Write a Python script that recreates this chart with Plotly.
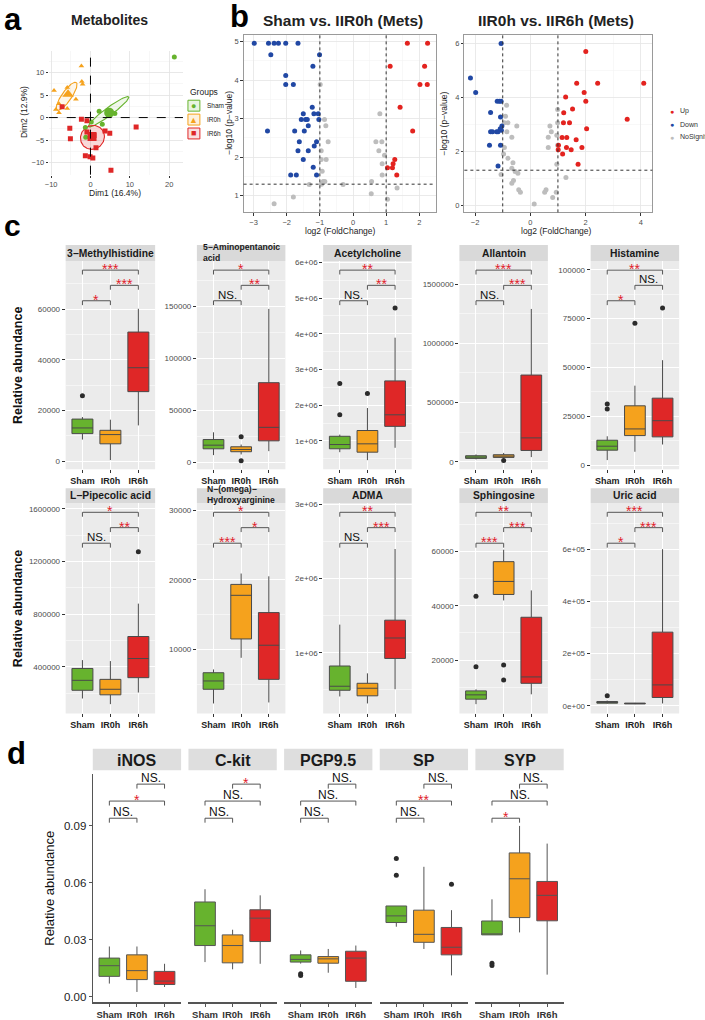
import numpy as np
import plotly.graph_objects as go

# ======================= DATA =======================
groups = ["Sham", "IR0h", "IR6h"]

# ---- Panel a : PCA (Dim1 / Dim2) ----
pca_sham_x = [21.3, 2.2, 4.3, 6.2, 3.0, 0.2, -1.3, -1.2]
pca_sham_y = [13.5, 1.4, 1.5, 0.9, -1.5, -1.0, -2.2, -4.4]
pca_ir0h_x = [-2.3, -2.2, -2.0, -5.9, -9.25, -3.7, -8.0, -5.9, -8.8, -8.0]
pca_ir0h_y = [11.5, 8.0, 7.4, 6.7, 6.0, 4.1, 3.1, 2.0, 1.8, 1.1]
pca_ir6h_x = [-7.2, -2.3, -0.9, 11.6, -5.25, 3.7, 4.9, -5.1, 1.4, -1.3, -0.1, 0.6, 5.2, -0.9, 0.9]
pca_ir6h_y = [2.4, -0.4, -0.7, -2.1, -2.4, -3.0, -3.5, -4.7, -6.7, -8.5, -8.7, -9.0, -11.7, -3.2, -4.0]
pca_centroid_x = [4.75, -5.7, 0.4]
pca_centroid_y = [1.1, 5.2, -4.2]
ell_center = [(4.6, 1.3), (-6.05, 4.75), (0.5, -4.4)]
ell_u = [(5.1, 3.3), (2.45, 3.05), (3.0, 0.6)]
ell_v = [(-0.6, 0.7), (-1.0, 0.65), (-0.5, 2.6)]

# ---- Panel b : volcano Sham vs IIR0h ----
v1_up_x = [1.64, 2.25, 1.12, 2.16, 2.02, 2.24, 1.42, 1.80, 1.26, 1.21, 1.19, 1.04, 1.32]
v1_up_y = [4.96, 4.96, 4.36, 4.36, 3.89, 3.89, 3.30, 2.68, 1.94, 1.83, 1.73, 1.73, 1.54]
v1_down_x = [-2.98, -2.55, -2.38, -2.25, -2.03, -1.66, -2.48, -1.01, -1.21, -2.03, -2.03, -1.80,
             -1.23, -1.50, -1.18, -1.05, -1.56, -1.43, -1.38, -1.03, -1.35, -2.58, -1.76, -1.47,
             -1.62, -1.10, -1.17, -1.66, -1.35, -1.50, -1.20, -1.88, -1.71, -1.10]
v1_down_y = [4.96, 4.96, 4.96, 4.96, 4.96, 4.96, 4.66, 4.66, 4.36, 4.12, 3.89, 3.89,
             3.30, 3.13, 3.13, 3.13, 2.98, 2.98, 2.98, 2.98, 2.82, 2.68, 2.68, 2.68,
             2.40, 2.40, 2.29, 2.17, 2.17, 1.94, 1.74, 1.54, 1.54, 1.54]
v1_ns_x = [-0.99, -0.86, -0.82, -0.75, -0.96, -0.96, -0.81, -0.93, -0.90, -0.85, -0.95, -1.32,
           -0.30, -1.80, -2.38, 0.81, 0.69, 0.87, 0.78, 0.95, 0.88, 0.88, 0.56, 0.55, 1.33, 1.04]
v1_ns_y = [3.89, 2.98, 2.82, 2.40, 2.17, 1.94, 1.94, 1.64, 1.37, 1.37, 1.30, 1.29,
           1.29, 0.97, 0.79, 3.13, 2.40, 2.40, 2.17, 2.05, 1.83, 1.54, 1.37, 1.05, 1.20, 0.91]

# ---- Panel b : volcano IIR0h vs IIR6h ----
v2_up_x = [2.01, 1.68, 2.44, 4.11, 1.95, 1.28, 2.01, 1.53, 1.21, 3.51, 1.20, 1.42, 2.04, 1.15,
           1.32, 1.66, 1.02, 1.31, 1.87, 1.48, 1.01, 1.17, 1.73]
v2_up_y = [5.70, 4.52, 4.52, 4.52, 4.18, 4.01, 3.86, 3.57, 3.43, 3.19, 3.06, 3.06, 2.84, 2.51,
           2.51, 2.43, 2.23, 2.14, 2.14, 2.06, 2.06, 1.90, 1.52]
v2_down_x = [-2.17, -1.98, -1.06, -1.20, -1.12, -1.06, -1.44, -1.08, -1.03, -1.09, -1.44, -1.37,
             -1.22, -1.17, -1.48, -1.08, -1.17, -1.05]
v2_down_y = [4.72, 4.18, 6.0, 3.86, 3.86, 3.86, 3.44, 3.27, 2.94, 2.84, 2.73, 2.73,
             2.73, 2.73, 2.23, 2.23, 1.46, 2.78]
v2_ns_x = [-0.86, -0.90, -0.94, -0.81, -0.49, -0.85, -0.67, -0.94, -0.97, -0.81, -0.63, -0.67,
           -0.55, -0.45, -1.06, -0.61, -0.67, -0.42, -0.36, 0.14, 0.99, 0.99, 0.71, 0.76,
           0.65, 0.96, 0.99, 0.65, 0.96, 1.29, 0.57, 0.52, 0.94, 0.81]
v2_ns_y = [3.71, 3.30, 3.06, 3.06, 2.94, 2.73, 2.52, 2.14, 1.90, 1.74, 1.58, 1.37,
           1.25, 1.19, 1.14, 0.92, 0.82, 0.58, 0.48, 0.05, 3.55, 3.06, 2.94, 2.73,
           2.52, 2.60, 2.23, 2.14, 1.52, 1.03, 0.58, 0.48, 0.48, 0.29]

# ---- Panel c : metabolite box plots ----
c_names = ["3−Methylhistidine", "5−Aminopentanoic<br>acid", "Acetylcholine", "Allantoin", "Histamine",
           "L−Pipecolic acid", "N−(omega)−<br>Hydroxyarginine", "ADMA", "Sphingosine", "Uric acid"]
c_sham_lo = [8500, 7150, 683000, 20000, 2690, 158500, 2275, 411000, 3770, 8000]
c_sham_q1 = [10860, 13200, 778000, 28500, 7760, 221000, 4310, 495000, 5600, 9900]
c_sham_med = [13100, 16700, 897000, 39400, 9790, 296600, 5500, 549000, 7200, 12500]
c_sham_q3 = [16600, 22100, 1128000, 51000, 12830, 387000, 6680, 822000, 8660, 16300]
c_sham_hi = [17400, 29050, 1175000, 62000, 14860, 450500, 7150, 1380000, 9250, 20000]
c_sham_out = [[25800], [], [2610000, 1730000], [], [31290, 28750], [], [], [], [17550, 43500], [38000]]
c_ir0h_lo = [400, 7800, 460000, 30000, 6950, 115500, 8820, 317000, 42000, 6000]
c_ir0h_q1 = [6820, 10400, 683000, 36800, 15210, 186400, 11520, 420000, 44200, 7000]
c_ir0h_med = [10470, 12570, 917000, 47700, 18610, 228700, 17775, 522000, 49000, 8700]
c_ir0h_q3 = [12160, 15150, 1290000, 59500, 30430, 304000, 19340, 589000, 56300, 10000]
c_ir0h_hi = [16350, 17300, 1920000, 74500, 40720, 443000, 20900, 723000, 60700, 11000]
c_ir0h_out = [[], [24670, 1800], [2330000], [11700], [72670], [], [], [], [18200, 12700], []]
c_ir6h_lo = [14100, 10950, 806000, 39400, 10650, 203800, 2420, 509000, 7400, 8700]
c_ir6h_q1 = [27450, 20860, 1406000, 95500, 14550, 317000, 5730, 924000, 11450, 31600]
c_ir6h_med = [36900, 33810, 1730000, 201800, 22820, 462600, 10620, 1200000, 13800, 79800]
c_ir6h_q3 = [51000, 76670, 2680000, 732000, 34330, 630000, 15300, 1440000, 35800, 282000]
c_ir6h_hi = [60200, 147500, 3890000, 1290000, 53750, 880000, 20500, 2400000, 45700, 600000]
c_ir6h_out = [[], [], [4720000], [], [80480], [1275000], [], [], [], []]
c_tickvals = [[0, 20000, 40000, 60000], [0, 50000, 100000, 150000],
              [1e6, 2e6, 3e6, 4e6, 5e6, 6e6], [0, 500000, 1000000, 1500000],
              [0, 25000, 50000, 75000, 100000], [400000, 800000, 1200000, 1600000],
              [10000, 20000, 30000], [1e6, 2e6, 3e6], [20000, 40000, 60000], [0, 2e5, 4e5, 6e5]]
c_ticktext = [["0", "20000", "40000", "60000"], ["0", "50000", "100000", "150000"],
              ["1e+06", "2e+06", "3e+06", "4e+06", "5e+06", "6e+06"], ["0", "500000", "1000000", "1500000"],
              ["0", "25000", "50000", "75000", "100000"], ["400000", "800000", "1200000", "1600000"],
              ["10000", "20000", "30000"], ["1e+06", "2e+06", "3e+06"], ["20000", "40000", "60000"],
              ["0e+00", "2e+05", "4e+05", "6e+05"]]
c_sig_top = ["***", "*", "**", "***", "**", "*", "*", "**", "**", "***"]      # Sham vs IR6h
c_sig_mid = ["***", "**", "**", "***", "NS.", "**", "*", "***", "***", "***"]  # IR0h vs IR6h
c_sig_low = ["*", "NS.", "NS.", "NS.", "*", "NS.", "***", "NS.", "***", "*"]   # Sham vs IR0h

# ---- Panel d : protein markers ----
d_names = ["iNOS", "C-kit", "PGP9.5", "SP", "SYP"]
d_sham_lo = [0.0070, 0.0183, 0.0175, 0.0369, 0.0326]
d_sham_q1 = [0.0108, 0.0270, 0.0183, 0.0391, 0.0326]
d_sham_med = [0.0164, 0.0374, 0.0197, 0.0426, 0.0326]
d_sham_q3 = [0.0204, 0.0499, 0.0221, 0.0478, 0.0399]
d_sham_hi = [0.0265, 0.0566, 0.0244, 0.0478, 0.0513]
d_sham_out = [[], [], [0.0122, 0.0112], [0.0727, 0.0639], [0.0177, 0.0165]]
d_ir0h_lo = [0.0026, 0.0145, 0.0127, 0.0252, 0.0339]
d_ir0h_q1 = [0.0091, 0.0179, 0.0177, 0.0287, 0.0417]
d_ir0h_med = [0.0138, 0.0270, 0.0200, 0.0329, 0.0621]
d_ir0h_q3 = [0.0221, 0.0326, 0.0212, 0.0456, 0.0757]
d_ir0h_hi = [0.0265, 0.0353, 0.0252, 0.0684, 0.0899]
d_ir0h_out = [[], [], [], [], []]
d_ir6h_lo = [0.0052, 0.0174, 0.0047, 0.0113, 0.0117]
d_ir6h_q1 = [0.0065, 0.0291, 0.0082, 0.0221, 0.0400]
d_ir6h_med = [0.0083, 0.0414, 0.0204, 0.0261, 0.0534]
d_ir6h_q3 = [0.0134, 0.0458, 0.0240, 0.0365, 0.0607]
d_ir6h_hi = [0.0174, 0.0534, 0.0270, 0.0456, 0.0806]
d_ir6h_out = [[], [], [], [0.0592], []]
d_tickvals = [0, 0.03, 0.06, 0.09]
d_ticktext = ["0.00", "0.03", "0.06", "0.09"]
d_sig_top = ["NS.", "*", "NS.", "NS.", "NS."]    # IR0h vs IR6h
d_sig_mid = ["*", "NS.", "NS.", "**", "NS."]     # Sham vs IR6h
d_sig_low = ["NS.", "NS.", "NS.", "NS.", "*"]    # Sham vs IR0h

# ======================= STYLE / LAYOUT =======================
W, H = 705, 1020
FONT = "Liberation Sans, Arial, sans-serif"
GREEN, ORANGE, RED = "#67b32e", "#f5a21d", "#df2727"
GROUP_COLORS = [GREEN, ORANGE, RED]
V_RED, V_BLUE, V_GRAY = "#e3231f", "#2148a4", "#bdbdbd"
STAR_RED = "#e0202a"

fig = go.Figure()
shapes, annots, layout = [], [], {}


def xr(n): return "x" if n == 1 else f"x{n}"
def yr(n): return "y" if n == 1 else f"y{n}"
def xk(n): return "xaxis" if n == 1 else f"xaxis{n}"
def yk(n): return "yaxis" if n == 1 else f"yaxis{n}"


def add_text(t, px, py, size, color="#000", bold=False, xanchor="center", yanchor="middle", angle=0, align="center"):
    annots.append(dict(text=f"<b>{t}</b>" if bold else t, x=px / W, y=1 - py / H, xref="paper", yref="paper",
                       showarrow=False, xanchor=xanchor, yanchor=yanchor, textangle=angle, align=align,
                       font=dict(size=size, color=color, family=FONT)))


def rect(px0, py0, px1, py1, fill, line=None, layer="below"):
    shapes.append(dict(type="rect", xref="paper", yref="paper", x0=px0 / W, x1=px1 / W,
                       y0=1 - py1 / H, y1=1 - py0 / H, fillcolor=fill,
                       line=line if line else dict(width=0), layer=layer))


# ------------------ Panel a ------------------
tick_common = dict(ticks="outside", ticklen=2, tickcolor="#333", zeroline=False, showline=False)
layout[xk(1)] = dict(domain=[45 / W, 180 / W], anchor="y", range=[-10.6, 23.5], tickvals=[-10, 0, 10, 20],
                     showgrid=True, gridcolor="#e4e4e4", gridwidth=0.8,
                     minor=dict(tickmode="linear", tick0=0, dtick=5, showgrid=True, gridcolor="#f0f0f0", gridwidth=0.5),
                     tickfont=dict(size=7.5, color="#4d4d4d"), **tick_common)
layout[yk(1)] = dict(domain=[1 - 173 / H, 1 - 48 / H], anchor="x", range=[-12.7, 14.9], tickvals=[-10, -5, 0, 5, 10],
                     showgrid=True, gridcolor="#e4e4e4", gridwidth=0.8,
                     minor=dict(tickmode="linear", tick0=0, dtick=2.5, showgrid=True, gridcolor="#f0f0f0", gridwidth=0.5),
                     tickfont=dict(size=7.5, color="#4d4d4d"), **tick_common)

tt = np.linspace(0, 2 * np.pi, 120)
fills = ["rgba(103,179,46,0.10)", "rgba(245,162,29,0.10)", "rgba(223,39,39,0.18)"]
for c, u, v, col, fc in zip(ell_center, ell_u, ell_v, GROUP_COLORS, fills):
    ex = c[0] + np.cos(tt) * u[0] + np.sin(tt) * v[0]
    ey = c[1] + np.cos(tt) * u[1] + np.sin(tt) * v[1]
    fig.add_trace(go.Scatter(x=ex, y=ey, mode="lines", fill="toself", fillcolor=fc,
                             line=dict(color=col, width=1.1), xaxis="x", yaxis="y", hoverinfo="skip"))

shapes.append(dict(type="line", xref="x", yref="y domain", x0=0, x1=0, y0=0, y1=1,
                   line=dict(color="#000", width=1, dash="dash")))
shapes.append(dict(type="line", xref="x domain", yref="y", x0=0, x1=1, y0=0, y1=0,
                   line=dict(color="#000", width=1, dash="dash")))

pca_sets = [(pca_sham_x, pca_sham_y, "circle"), (pca_ir0h_x, pca_ir0h_y, "triangle-up"),
            (pca_ir6h_x, pca_ir6h_y, "square")]
for (xs, ys, sym), col in zip(pca_sets, GROUP_COLORS):
    fig.add_trace(go.Scatter(x=xs, y=ys, mode="markers", marker=dict(symbol=sym, size=5, color=col),
                             xaxis="x", yaxis="y", hoverinfo="skip"))
for i, ((_, _, sym), col) in enumerate(zip(pca_sets, GROUP_COLORS)):
    fig.add_trace(go.Scatter(x=[pca_centroid_x[i]], y=[pca_centroid_y[i]], mode="markers",
                             marker=dict(symbol=sym, size=10 if sym != "square" else 9, color=col),
                             xaxis="x", yaxis="y", hoverinfo="skip"))

add_text("a", 9, 17, 31, bold=True)
add_text("Metabolites", 106, 17.5, 14, color="#222", bold=True)
add_text("Dim1 (16.4%)", 112, 192, 8.5, color="#222")
add_text("Dim2 (12.9%)", 20, 110, 8.5, color="#222", angle=-90)
# legend of panel a
add_text("Groups", 185, 89.5, 8.5, color="#222", xanchor="left")
leg_fill = ["rgba(103,179,46,0.15)", "rgba(245,162,29,0.15)", "rgba(223,39,39,0.15)"]
glyphs = ["●", "▲", "■"]
for i, g in enumerate(groups):
    cy = 103.5 + i * 14
    rect(185, cy - 5.5, 197, cy + 5.5, leg_fill[i], line=dict(color=GROUP_COLORS[i], width=1), layer="above")
    add_text(glyphs[i], 191, cy, 9, color=GROUP_COLORS[i])
    add_text(g, 202, cy, 6.5, color="#222", xanchor="left")

# ------------------ Panel b ------------------
def volcano(n, xd, yd, xrange, xt, xminor, yrange, yt, yminor, up, down, ns):
    ax_common = dict(showgrid=True, gridcolor="#e6e6e6", gridwidth=0.8, zeroline=False,
                     showline=True, mirror=True, linecolor="#9a9a9a", linewidth=1,
                     ticks="outside", ticklen=2.5, tickcolor="#333", tickfont=dict(size=7.5, color="#4d4d4d"))
    layout[xk(n)] = dict(domain=[xd[0] / W, xd[1] / W], anchor=yr(n), range=xrange, tickvals=xt,
                         minor=dict(tickmode="linear", tick0=0, dtick=xminor, showgrid=True,
                                    gridcolor="#f2f2f2", gridwidth=0.5), **ax_common)
    layout[yk(n)] = dict(domain=[1 - yd[1] / H, 1 - yd[0] / H], anchor=xr(n), range=yrange, tickvals=yt,
                         minor=dict(tickmode="linear", tick0=0, dtick=yminor, showgrid=True,
                                    gridcolor="#f2f2f2", gridwidth=0.5), **ax_common)
    for xv in (-1, 1):
        shapes.append(dict(type="line", xref=xr(n), yref=f"{yr(n)} domain", x0=xv, x1=xv, y0=0, y1=1,
                           line=dict(color="#333", width=1, dash="dot")))
    shapes.append(dict(type="line", xref=f"{xr(n)} domain", yref=yr(n), x0=0, x1=1,
                       y0=-np.log10(0.05), y1=-np.log10(0.05), line=dict(color="#333", width=1, dash="dot")))
    for (xs, ys), col in zip([ns, down, up], [V_GRAY, V_BLUE, V_RED]):
        fig.add_trace(go.Scatter(x=xs, y=ys, mode="markers", marker=dict(size=5, color=col),
                                 xaxis=xr(n), yaxis=yr(n), hoverinfo="skip"))


volcano(2, (241, 434), (32, 211), [-3.3, 2.49], [-3, -2, -1, 0, 1, 2], 0.5, [0.57, 5.18], [1, 2, 3, 4, 5], 0.5,
        (v1_up_x, v1_up_y), (v1_down_x, v1_down_y), (v1_ns_x, v1_ns_y))
volcano(3, (463, 652), (32, 211), [-2.39, 4.42], [-2, 0, 2, 4], 1, [-0.26, 6.32], [0, 2, 4, 6], 1,
        (v2_up_x, v2_up_y), (v2_down_x, v2_down_y), (v2_ns_x, v2_ns_y))

add_text("b", 237, 14, 31, bold=True)
add_text("Sham vs. IIR0h (Mets)", 340.5, 18, 15.5, color="#222", bold=True)
add_text("IIR0h vs. IIR6h (Mets)", 555, 18, 15.5, color="#222", bold=True)
add_text("log2 (FoldChange)", 338, 229.5, 8.5, color="#222")
add_text("log2 (FoldChange)", 556, 229.5, 8.5, color="#222")
add_text("−log10 (p−value)", 226, 121, 8.5, color="#222", angle=-90)
add_text("−log10 (p−value)", 443, 121, 8.5, color="#222", angle=-90)
for i, (lab, col) in enumerate(zip(["Up", "Down", "NoSignificant"], [V_RED, V_BLUE, V_GRAY])):
    cy = 109 + i * 13.2
    add_text("●", 671.5, cy, 7, color=col)
    add_text(lab, 678, cy, 7, color="#333", xanchor="left")

# ------------------ Panel c ------------------
c_x_px = [(62, 152), (194, 283), (321, 410), (458, 547), (590, 679)]
c_rows = [(260, 470, 244), (504, 716, 489)]
c_yrange = [[-3255, 79100], [-6480, 193500], [203000, 6040000], [-63650, 1695000], [-2030, 104460],
            [45280, 1645000], [853, 31000], [183000, 3020000], [366, 77900], [-29300, 776700]]
c_minor = [10000, 25000, 500000, 250000, 12500, 200000, 5000, 500000, 10000, 100000]
c_levels = [0.956, 0.883, 0.809]
c_tick = 0.021

group_stats_c = [
    (c_sham_lo, c_sham_q1, c_sham_med, c_sham_q3, c_sham_hi, c_sham_out),
    (c_ir0h_lo, c_ir0h_q1, c_ir0h_med, c_ir0h_q3, c_ir0h_hi, c_ir0h_out),
    (c_ir6h_lo, c_ir6h_q1, c_ir6h_med, c_ir6h_q3, c_ir6h_hi, c_ir6h_out),
]


def add_boxes(n, i, stats, lw_col="#4a4a4a"):
    for g, (lo, q1, med, q3, hi, out) in enumerate(stats):
        fig.add_trace(go.Box(x=[g + 1], lowerfence=[lo[i]], q1=[q1[i]], median=[med[i]], q3=[q3[i]],
                             upperfence=[hi[i]], width=0.75, whiskerwidth=0, boxpoints=False,
                             fillcolor=GROUP_COLORS[g], line=dict(color=lw_col, width=1),
                             xaxis=xr(n), yaxis=yr(n), hoverinfo="skip"))
        if out[i]:
            fig.add_trace(go.Scatter(x=[g + 1] * len(out[i]), y=out[i], mode="markers",
                                     marker=dict(size=5, color="#2b2b2b"), xaxis=xr(n), yaxis=yr(n),
                                     hoverinfo="skip"))


def bracket(n, xa, xb, level, tick, label, ns_size, star_size):
    yref = f"{yr(n)} domain"
    lc = dict(color="#555", width=1)
    shapes.append(dict(type="line", xref=xr(n), yref=yref, x0=xa, x1=xb, y0=level, y1=level, line=lc))
    shapes.append(dict(type="line", xref=xr(n), yref=yref, x0=xa, x1=xa, y0=level, y1=level - tick, line=lc))
    shapes.append(dict(type="line", xref=xr(n), yref=yref, x0=xb, x1=xb, y0=level, y1=level - tick, line=lc))
    is_ns = label.startswith("NS")
    annots.append(dict(text=label, x=(xa + xb) / 2, y=level, xref=xr(n), yref=yref, showarrow=False,
                       xanchor="center", yanchor="middle", yshift=6 if is_ns else 1,
                       font=dict(size=ns_size if is_ns else star_size,
                                 color="#111" if is_ns else STAR_RED, family=FONT)))


for i in range(10):
    n = 4 + i
    row, col = divmod(i, 5)
    x0, x1 = c_x_px[col]
    top, bot, stop = c_rows[row]
    layout[xk(n)] = dict(domain=[x0 / W, x1 / W], anchor=yr(n), range=[0.4, 3.6], tickvals=[1, 2, 3],
                         ticktext=[f"<b>{g}</b>" for g in groups], tickfont=dict(size=9, color="#222"),
                         ticks="outside", ticklen=3, tickcolor="#333", showgrid=True, gridcolor="white",
                         gridwidth=1, zeroline=False, showline=False)
    layout[yk(n)] = dict(domain=[1 - bot / H, 1 - top / H], anchor=xr(n), range=c_yrange[i],
                         tickvals=c_tickvals[i], ticktext=c_ticktext[i], tickfont=dict(size=8, color="#4d4d4d"),
                         ticks="outside", ticklen=3, tickcolor="#333", showgrid=True, gridcolor="white",
                         gridwidth=1, zeroline=False, showline=False,
                         minor=dict(tickmode="linear", tick0=0, dtick=c_minor[i], showgrid=True,
                                    gridcolor="white", gridwidth=0.5))
    rect(x0, top, x1, bot, "#ebebeb")
    rect(x0, stop, x1, top, "#d9d9d9")
    if "<br>" in c_names[i]:
        add_text(c_names[i], (x0 + x1) / 2, (stop + top) / 2 - 1, 8.6, color="#1a1a1a", bold=True, align="left")
    else:
        add_text(c_names[i], (x0 + x1) / 2, (stop + top) / 2, 10.3, color="#1a1a1a", bold=True)
    add_boxes(n, i, group_stats_c)
    bracket(n, 1, 3, c_levels[0], c_tick, c_sig_top[i], 11.5, 14)
    bracket(n, 2, 3, c_levels[1], c_tick, c_sig_mid[i], 11.5, 14)
    bracket(n, 1, 2, c_levels[2], c_tick, c_sig_low[i], 11.5, 14)

add_text("c", 9, 224, 30, bold=True)
add_text("Relative abundance", 14, 365, 12.5, color="#111", bold=True, angle=-90)
add_text("Relative abundance", 14, 610, 12.5, color="#111", bold=True, angle=-90)

# ------------------ Panel d ------------------
d_x_px = [(89.3, 178.1), (185.5, 274.3), (281.7, 370.5), (377.9, 466.7), (474.1, 562.9)]
d_top, d_bot, d_stop, d_sbot = 776.7, 1007.3, 751.7, 773.3
d_levels = [0.954, 0.880, 0.805]
d_tick = 0.0195
group_stats_d = [
    (d_sham_lo, d_sham_q1, d_sham_med, d_sham_q3, d_sham_hi, d_sham_out),
    (d_ir0h_lo, d_ir0h_q1, d_ir0h_med, d_ir0h_q3, d_ir0h_hi, d_ir0h_out),
    (d_ir6h_lo, d_ir6h_q1, d_ir6h_med, d_ir6h_q3, d_ir6h_hi, d_ir6h_out),
]
for i in range(5):
    n = 14 + i
    x0, x1 = d_x_px[i]
    layout[xk(n)] = dict(domain=[x0 / W, x1 / W], anchor=yr(n), range=[0.4, 3.6], tickvals=[1, 2, 3],
                         ticktext=[f"<b>{g}</b>" for g in groups], tickfont=dict(size=9.5, color="#333"),
                         ticks="outside", ticklen=3, tickcolor="#555", showgrid=False, zeroline=False,
                         showline=True, linecolor="#555", linewidth=1.2)
    ya = dict(domain=[1 - d_bot / H, 1 - d_top / H], anchor=xr(n), range=[-0.0029, 0.1174],
              showgrid=False, zeroline=False)
    if i == 0:
        ya.update(tickvals=d_tickvals, ticktext=d_ticktext, tickfont=dict(size=11.5, color="#222"),
                  ticks="outside", ticklen=3, tickcolor="#555", showline=True, linecolor="#555", linewidth=1.2)
    else:
        ya.update(showticklabels=False, ticks="", showline=False)
    layout[yk(n)] = ya
    rect(x0, d_stop, x1, d_sbot, "#dedede")
    add_text(d_names[i], (x0 + x1) / 2, (d_stop + d_sbot) / 2 + 0.5, 16, color="#1a1a1a", bold=True)
    add_boxes(n, i, group_stats_d, lw_col="#555")
    bracket(n, 2, 3, d_levels[0], d_tick, d_sig_top[i], 12, 14)
    bracket(n, 1, 3, d_levels[1], d_tick, d_sig_mid[i], 12, 14)
    bracket(n, 1, 2, d_levels[2], d_tick, d_sig_low[i], 12, 14)

add_text("d", 13, 756, 31, bold=True)
add_text("Relative abundance", 45, 892, 13, color="#111", angle=-90)

layout.update(width=W, height=H, margin=dict(l=0, r=0, t=0, b=0), paper_bgcolor="white",
              plot_bgcolor="rgba(0,0,0,0)", showlegend=False, boxmode="overlay",
              font=dict(family=FONT), shapes=shapes, annotations=annots)
fig.update_layout(**layout)
fig.write_html("out.html", config={"displayModeBar": False, "staticPlot": True},
               post_script="document.body.style.margin='0px';document.body.style.overflow='hidden';")
